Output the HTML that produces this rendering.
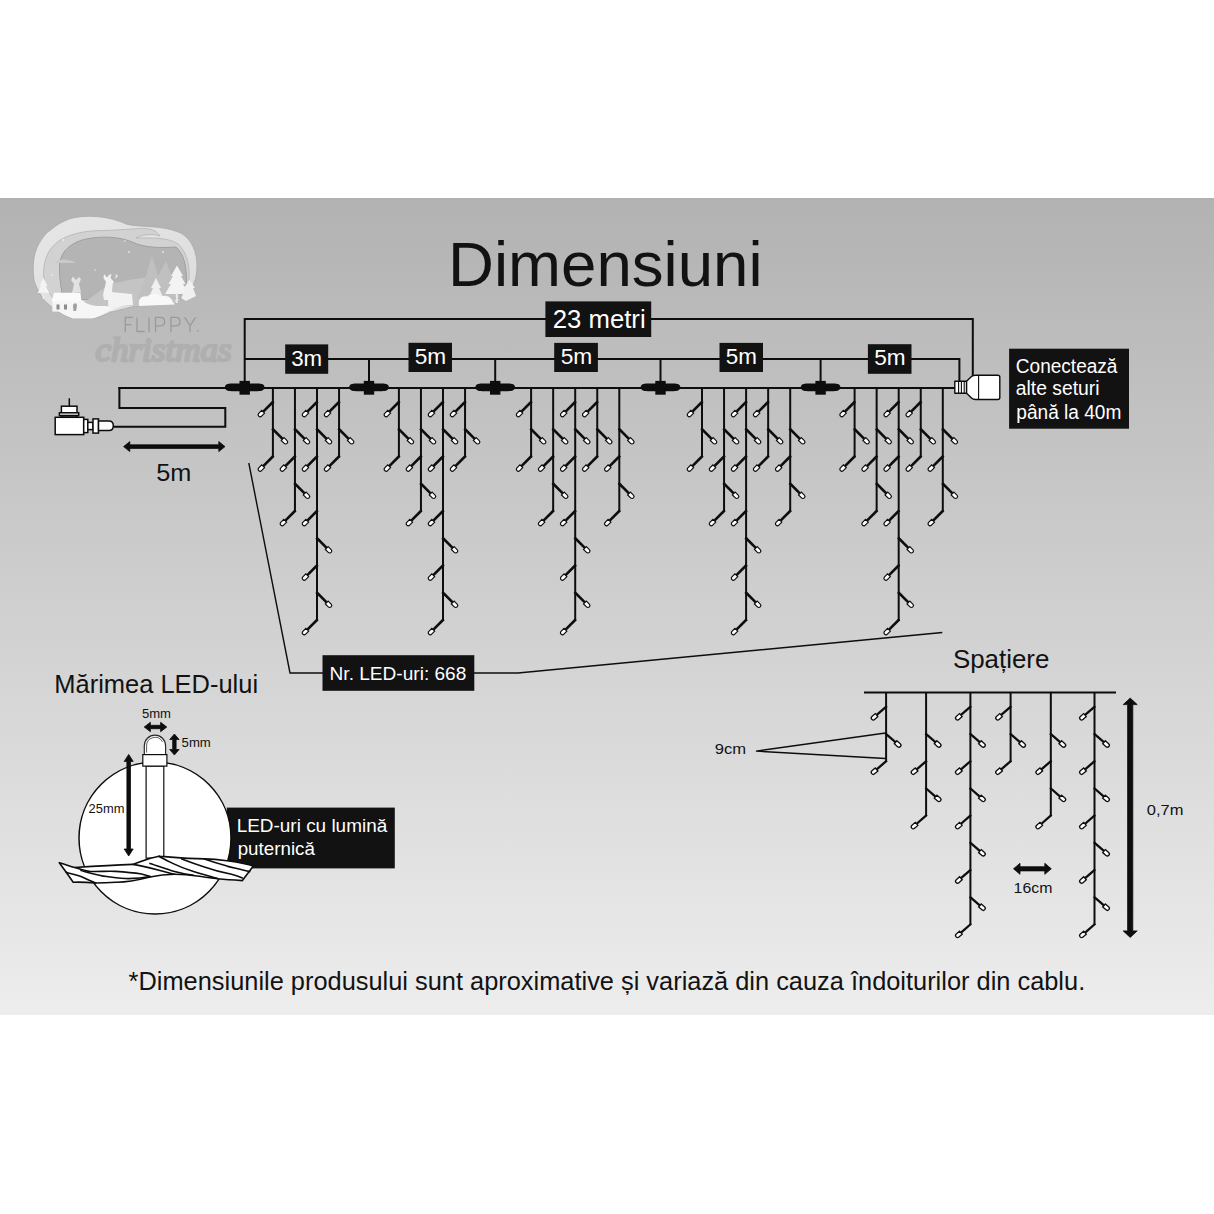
<!DOCTYPE html>
<html><head><meta charset="utf-8"><style>
html,body{margin:0;padding:0;background:#fff;width:1214px;height:1214px;overflow:hidden}
#bg{position:absolute;left:0;top:198px;width:1214px;height:817px;background:linear-gradient(#b2b2b2,#ededed)}
svg{position:absolute;left:0;top:0}
text{font-family:"Liberation Sans",sans-serif;}
</style></head><body>
<div id="bg"></div>
<svg width="1214" height="1214" viewBox="0 0 1214 1214">
<defs>
<linearGradient id="lg1" x1="0" y1="0" x2="1" y2="1"><stop offset="0" stop-color="#e6e6e6"/><stop offset="1" stop-color="#dcdcdc"/></linearGradient>
<filter id="blur1" x="-10%" y="-10%" width="120%" height="120%"><feGaussianBlur stdDeviation="0.8"/></filter>
</defs>

<g id="logo">
<path d="M69,219 C85,214 110,216 126,224 C140,228 160,224 181,233 C192,240 197,252 197,266 C197,280 192,290 186,296 L175,303 C160,306 145,305 137,306 C125,308 118,311 111,312 C102,316 97,318 92,318.5 L73,318.5 C66,316 62,314 58,311.8 C50,306 46,302 42.7,298.5 C38,290 35,285 34,279.6 C33,273 33,268 33.3,264 C34,255 36,249 39,243.6 C43,237 46,233 50.3,230.3 C56,225 62,222 69,219 Z" fill="url(#lg1)" stroke="#acacac" stroke-width="0.9"/>
<path d="M43.6,275 C43,258 50,246 62,239 C75,232 90,230.5 105,230.5 C120,230 130,229 140,228.5 C150,228 156,230 160,236 C150,233 142,235 136,238 C150,238 168,237 178,244 C187,252 190,266 189,280 C188,292 182,298 172,302 L60,306 C50,296 44,286 43.6,275 Z" fill="#d2d2d2" stroke="#b4b4b4" stroke-width="0.8"/>
<path d="M59.5,268 C59,254 68,244 84,239.5 C100,236 118,236 132,242 C145,248 160,248 176,247 C184,254 186.5,266 186.5,280 L186,298 L64,300 C61,290 59.5,280 59.5,268 Z" fill="#b4b4b4" stroke="#9f9f9f" stroke-width="1"/>
<path d="M54,263 C60,258 70,259 76,263 Z" fill="#c9c9c9"/>
<path d="M82,250 A3.5,3.5 0 1 0 86,256 A2.8,2.8 0 1 1 82,250 Z" fill="#dcdcdc"/>
<path d="M80,306 C90,298 100,290 110,285 C120,281 135,279 150,277 L170,280 L175,304 L80,308 Z" fill="#c4c4c4"/>
<path d="M137,298 L146,276 L151.8,255.6 L158,276 L166,261 L174,282 L180,298 Z" fill="#c0c0c0"/>
<path d="M103,295 L106,282 L103.5,278 L104,274 L107,277.5 L109,275 L111.5,274 L110.5,278 L114,282 L112.6,284 L112,292 C116,293 125,293 132,294 L133,305 L122,306 L114,309 L112,311 L108.5,311 L108,300 L104,300 Z" fill="#f2f2f2"/>
<path d="M116,274 L118,276 L115,279 Z" fill="#e8e8e8"/>
<path d="M72,293 L74,284 L71,280 L73,276.5 L76,280 L79,277 L81,279 L79,284 L81,292 Z" fill="#e2e2e2"/>
<path d="M37.7,293 L41,286 L39.5,286 L43.5,278 L47.5,286 L46,286 L49.5,293 Z" fill="#f4f4f4"/>
<rect x="42.6" y="292" width="1.6" height="7" fill="#e8e8e8"/>
<path d="M149,297 L153,288 L151,288 L156,278 L161,288 L159,288 L163,297 Z" fill="#f0f0f0"/>
<path d="M165,294 L171,284 L168.5,284 L173,276 L171,276 L177,265.4 L183,276 L181,276 L185.5,284 L183,284 L189,294 Z" fill="#f3f3f3"/>
<rect x="175.8" y="293" width="2" height="10" fill="#eaeaea"/>
<path d="M181,298 L186,288 L184,288 L189.6,279.4 L195,288 L193,288 L196,296 L186,301 Z" fill="#f0f0f0"/>
<path d="M139,305 C138,299 142,295.5 147,296.5 C150,293 158,293 161,296.5 C165,294.5 171,296 172.8,302 L175,304.6 L139,306 Z" fill="#f8f8f8"/>
<path d="M52,302 L82,300 C88,306 96,306 104,306 C110,306 112,308 109,311 C102,315 97,317.5 92,318.5 L73,318.5 C66,316 60,313 55,308 Z" fill="#f6f6f6"/>
<rect x="52.4" y="301" width="28" height="10.6" fill="#f5f5f5"/>
<path d="M51.5,301.5 L54,292.7 L80.4,292.7 L81.5,301.5 Z" fill="#fafafa"/>
<rect x="56.5" y="304.5" width="3" height="5" fill="#8c8c8c"/><rect x="64" y="304.5" width="3" height="5" fill="#8c8c8c"/>
<path d="M73,306 C73,303 77,302 77,306 L76,311 L73.5,311 Z" fill="#a0a0a0"/>
<circle cx="129" cy="252" r="0.9" fill="#e6e6e6"/><circle cx="163" cy="252" r="0.9" fill="#e6e6e6"/><circle cx="52" cy="275" r="1" fill="#e6e6e6"/><circle cx="95" cy="270" r="0.8" fill="#e6e6e6"/><circle cx="125" cy="241" r="0.8" fill="#e6e6e6"/><circle cx="63" cy="240" r="1" fill="#efefef"/>
</g>
<g stroke="#9a9a9a" stroke-width="1.3" fill="none" stroke-linejoin="miter">
<path d="M125.3,332.2 V317.4 H132.8 M125.3,324.6 H131.5"/>
<path d="M137,317.4 V331.5 H144.6"/>
<path d="M149,317.4 V332.2"/>
<path d="M155.5,332.2 V317.4 H160.5 C163.8,317.4 164.6,319.6 164.6,321.6 C164.6,323.6 163.8,325.8 160.5,325.8 H155.5"/>
<path d="M170.9,332.2 V317.4 H175.9 C179.2,317.4 180,319.6 180,321.6 C180,323.6 179.2,325.8 175.9,325.8 H170.9"/>
<path d="M184.6,317.4 L190.1,325.5 L195.6,317.4 M190.1,325.5 V332.2"/>
</g>
<circle cx="197.8" cy="331" r="0.9" fill="#a0a0a0"/>

<text x="95.5" y="360.5" font-size="34" fill="#afafaf" stroke="#afafaf" stroke-width="2.4" stroke-linejoin="round" style="font-family:'Liberation Serif',serif;font-style:italic;font-weight:normal" textLength="136" lengthAdjust="spacingAndGlyphs">christmas</text>
<text x="448.0" y="285.7" font-size="63.4" textLength="314.59" lengthAdjust="spacingAndGlyphs" fill="#121212">Dimensiuni</text>
<g stroke="#0d0d0d" stroke-width="2" fill="none">
<polyline points="244.7,388 244.7,319 972.8,319 972.8,376"/>
<polyline points="244.7,359.1 959.4,359.1 959.4,382"/>
<line x1="369" y1="359.1" x2="369" y2="384"/>
<line x1="495.2" y1="359.1" x2="495.2" y2="384"/>
<line x1="660.5" y1="359.1" x2="660.5" y2="384"/>
<line x1="820.6" y1="359.1" x2="820.6" y2="384"/>
</g>
<line x1="118.4" y1="387.9" x2="955" y2="387.9" stroke="#0d0d0d" stroke-width="2"/>
<polyline points="224,387.9 119.4,387.9 119.4,407.9 225.3,407.9 225.3,426.8 112,426.8" stroke="#0d0d0d" stroke-width="2" fill="none"/>
<path d="M224.89999999999998,387.3 C224.89999999999998,384.6 227.7,383.6 231.7,383.6 H257.7 C261.7,383.6 264.5,384.6 264.5,387.3 C264.5,390 261.7,391.2 257.7,391.2 H231.7 C227.7,391.2 224.89999999999998,390 224.89999999999998,387.3 Z" fill="#0d0d0d"/>
<rect x="239.5" y="380.9" width="10.4" height="13.8" fill="#0d0d0d"/>
<path d="M349.2,387.3 C349.2,384.6 352,383.6 356,383.6 H382 C386,383.6 388.8,384.6 388.8,387.3 C388.8,390 386,391.2 382,391.2 H356 C352,391.2 349.2,390 349.2,387.3 Z" fill="#0d0d0d"/>
<rect x="363.8" y="380.9" width="10.4" height="13.8" fill="#0d0d0d"/>
<path d="M475.4,387.3 C475.4,384.6 478.2,383.6 482.2,383.6 H508.2 C512.2,383.6 515.0,384.6 515.0,387.3 C515.0,390 512.2,391.2 508.2,391.2 H482.2 C478.2,391.2 475.4,390 475.4,387.3 Z" fill="#0d0d0d"/>
<rect x="490.0" y="380.9" width="10.4" height="13.8" fill="#0d0d0d"/>
<path d="M640.7,387.3 C640.7,384.6 643.5,383.6 647.5,383.6 H673.5 C677.5,383.6 680.3,384.6 680.3,387.3 C680.3,390 677.5,391.2 673.5,391.2 H647.5 C643.5,391.2 640.7,390 640.7,387.3 Z" fill="#0d0d0d"/>
<rect x="655.3" y="380.9" width="10.4" height="13.8" fill="#0d0d0d"/>
<path d="M800.8000000000001,387.3 C800.8000000000001,384.6 803.6,383.6 807.6,383.6 H833.6 C837.6,383.6 840.4,384.6 840.4,387.3 C840.4,390 837.6,391.2 833.6,391.2 H807.6 C803.6,391.2 800.8000000000001,390 800.8000000000001,387.3 Z" fill="#0d0d0d"/>
<rect x="815.4" y="380.9" width="10.4" height="13.8" fill="#0d0d0d"/>
<rect x="545.4" y="301.4" width="105.8" height="35.6" fill="#121212"/>
<text x="552.8" y="328.1" font-size="24.9" textLength="92.82" lengthAdjust="spacingAndGlyphs" fill="#fff">23 metri</text>
<rect x="285.2" y="344.4" width="43.0" height="29.4" fill="#121212"/>
<text x="291.2" y="366.0" font-size="21.4" textLength="30.93" lengthAdjust="spacingAndGlyphs" fill="#fff">3m</text>
<rect x="408.5" y="342.8" width="43.5" height="29.2" fill="#121212"/>
<text x="414.7" y="364.0" font-size="21.4" textLength="31.48" lengthAdjust="spacingAndGlyphs" fill="#fff">5m</text>
<rect x="554.2" y="342.9" width="43.7" height="29.1" fill="#121212"/>
<text x="560.7" y="363.7" font-size="21.4" textLength="31.59" lengthAdjust="spacingAndGlyphs" fill="#fff">5m</text>
<rect x="719.5" y="342.9" width="43.5" height="29.1" fill="#121212"/>
<text x="725.8" y="363.7" font-size="21.4" textLength="31.15" lengthAdjust="spacingAndGlyphs" fill="#fff">5m</text>
<rect x="867.9" y="344.2" width="43.6" height="29.6" fill="#121212"/>
<text x="874.3" y="365.4" font-size="21.4" textLength="31.37" lengthAdjust="spacingAndGlyphs" fill="#fff">5m</text>
<g stroke="#0d0d0d" stroke-width="1.4" fill="#fff" stroke-linejoin="round">
<rect x="954.8" y="381.2" width="11.8" height="12"/>
<path d="M966.6,381.2 L971.5,376.6 Q973,375.2 975.5,375.2 H997.8 Q999.8,375.2 999.8,377.2 V397.5 Q999.8,399.5 997.8,399.5 H975.5 Q973,399.5 971.5,398 L966.6,393.2 Z"/>
</g>
<line x1="978.6" y1="375.5" x2="978.6" y2="399.2" stroke="#0d0d0d" stroke-width="1.1"/>
<g stroke="#0d0d0d" stroke-width="1.1"><line x1="958.6" y1="381.5" x2="958.6" y2="393"/><line x1="961.4" y1="381.5" x2="961.4" y2="393"/><line x1="964.2" y1="381.5" x2="964.2" y2="393"/></g>

<rect x="1009.1" y="348.7" width="119.9" height="80.0" fill="#121212"/>
<text x="1015.8" y="372.6" font-size="19.5" textLength="101.65" lengthAdjust="spacingAndGlyphs" fill="#fff">Conectează</text>
<text x="1015.8" y="395.3" font-size="19.5" textLength="83.72" lengthAdjust="spacingAndGlyphs" fill="#fff">alte seturi</text>
<text x="1016.3" y="418.5" font-size="19.5" textLength="105.08" lengthAdjust="spacingAndGlyphs" fill="#fff">până la 40m</text>
<g stroke="#0d0d0d" stroke-width="1.5" fill="#fff">
<line x1="69.3" y1="398.3" x2="69.3" y2="406.2"/>
<rect x="61.4" y="406.2" width="15.6" height="6.6"/>
<rect x="59.4" y="412.8" width="19.3" height="2.8"/>
<rect x="61.4" y="415.6" width="15.6" height="1.7"/>
<rect x="55.2" y="417.3" width="28.5" height="17.3"/>
<rect x="83.7" y="419.4" width="4.1" height="13.2"/>
<rect x="87.8" y="422.4" width="5.2" height="7.2"/>
<rect x="93" y="418.9" width="5.5" height="14.2"/>
<path d="M98.5,421 H109 Q113.3,421 113.3,425.8 Q113.3,430.6 109,430.6 H98.5 Z"/>
</g>
<path d="M123.6,446.6 L129.79999999999998,441.6 V444.8 H218.8 V441.6 L225,446.6 L218.8,451.6 V448.40000000000003 H129.79999999999998 V451.6 Z" fill="#0d0d0d" stroke="#0d0d0d" stroke-width="0.8" stroke-linejoin="round"/>
<text x="156.3" y="481.4" font-size="24.6" textLength="35.13" lengthAdjust="spacingAndGlyphs" fill="#121212">5m</text>
<line x1="272.90" y1="387.9" x2="272.90" y2="457.10" stroke="#0d0d0d" stroke-width="2.0"/><g transform="translate(272.90,402.00) rotate(135)"><line x1="-1" y1="0" x2="14.0" y2="0" stroke="#0d0d0d" stroke-width="2.6"/><path d="M13.8,-2.0 H18.0 A2.0,2.0 0 0 1 18.0,2.0 H13.8 Z" fill="#fff" stroke="#0d0d0d" stroke-width="1.2"/></g><g transform="translate(272.90,429.25) rotate(45)"><line x1="-1" y1="0" x2="14.0" y2="0" stroke="#0d0d0d" stroke-width="2.6"/><path d="M13.8,-2.0 H18.0 A2.0,2.0 0 0 1 18.0,2.0 H13.8 Z" fill="#fff" stroke="#0d0d0d" stroke-width="1.2"/></g><g transform="translate(272.90,456.50) rotate(135)"><line x1="-1" y1="0" x2="14.0" y2="0" stroke="#0d0d0d" stroke-width="2.6"/><path d="M13.8,-2.0 H18.0 A2.0,2.0 0 0 1 18.0,2.0 H13.8 Z" fill="#fff" stroke="#0d0d0d" stroke-width="1.2"/></g>
<line x1="294.95" y1="387.9" x2="294.95" y2="511.60" stroke="#0d0d0d" stroke-width="2.0"/><g transform="translate(294.95,429.25) rotate(45)"><line x1="-1" y1="0" x2="14.0" y2="0" stroke="#0d0d0d" stroke-width="2.6"/><path d="M13.8,-2.0 H18.0 A2.0,2.0 0 0 1 18.0,2.0 H13.8 Z" fill="#fff" stroke="#0d0d0d" stroke-width="1.2"/></g><g transform="translate(294.95,456.50) rotate(135)"><line x1="-1" y1="0" x2="14.0" y2="0" stroke="#0d0d0d" stroke-width="2.6"/><path d="M13.8,-2.0 H18.0 A2.0,2.0 0 0 1 18.0,2.0 H13.8 Z" fill="#fff" stroke="#0d0d0d" stroke-width="1.2"/></g><g transform="translate(294.95,483.75) rotate(45)"><line x1="-1" y1="0" x2="14.0" y2="0" stroke="#0d0d0d" stroke-width="2.6"/><path d="M13.8,-2.0 H18.0 A2.0,2.0 0 0 1 18.0,2.0 H13.8 Z" fill="#fff" stroke="#0d0d0d" stroke-width="1.2"/></g><g transform="translate(294.95,511.00) rotate(135)"><line x1="-1" y1="0" x2="14.0" y2="0" stroke="#0d0d0d" stroke-width="2.6"/><path d="M13.8,-2.0 H18.0 A2.0,2.0 0 0 1 18.0,2.0 H13.8 Z" fill="#fff" stroke="#0d0d0d" stroke-width="1.2"/></g>
<line x1="317.00" y1="387.9" x2="317.00" y2="620.60" stroke="#0d0d0d" stroke-width="2.0"/><g transform="translate(317.00,402.00) rotate(135)"><line x1="-1" y1="0" x2="14.0" y2="0" stroke="#0d0d0d" stroke-width="2.6"/><path d="M13.8,-2.0 H18.0 A2.0,2.0 0 0 1 18.0,2.0 H13.8 Z" fill="#fff" stroke="#0d0d0d" stroke-width="1.2"/></g><g transform="translate(317.00,429.25) rotate(45)"><line x1="-1" y1="0" x2="14.0" y2="0" stroke="#0d0d0d" stroke-width="2.6"/><path d="M13.8,-2.0 H18.0 A2.0,2.0 0 0 1 18.0,2.0 H13.8 Z" fill="#fff" stroke="#0d0d0d" stroke-width="1.2"/></g><g transform="translate(317.00,456.50) rotate(135)"><line x1="-1" y1="0" x2="14.0" y2="0" stroke="#0d0d0d" stroke-width="2.6"/><path d="M13.8,-2.0 H18.0 A2.0,2.0 0 0 1 18.0,2.0 H13.8 Z" fill="#fff" stroke="#0d0d0d" stroke-width="1.2"/></g><g transform="translate(317.00,511.00) rotate(135)"><line x1="-1" y1="0" x2="14.0" y2="0" stroke="#0d0d0d" stroke-width="2.6"/><path d="M13.8,-2.0 H18.0 A2.0,2.0 0 0 1 18.0,2.0 H13.8 Z" fill="#fff" stroke="#0d0d0d" stroke-width="1.2"/></g><g transform="translate(317.00,538.25) rotate(45)"><line x1="-1" y1="0" x2="14.0" y2="0" stroke="#0d0d0d" stroke-width="2.6"/><path d="M13.8,-2.0 H18.0 A2.0,2.0 0 0 1 18.0,2.0 H13.8 Z" fill="#fff" stroke="#0d0d0d" stroke-width="1.2"/></g><g transform="translate(317.00,565.50) rotate(135)"><line x1="-1" y1="0" x2="14.0" y2="0" stroke="#0d0d0d" stroke-width="2.6"/><path d="M13.8,-2.0 H18.0 A2.0,2.0 0 0 1 18.0,2.0 H13.8 Z" fill="#fff" stroke="#0d0d0d" stroke-width="1.2"/></g><g transform="translate(317.00,592.75) rotate(45)"><line x1="-1" y1="0" x2="14.0" y2="0" stroke="#0d0d0d" stroke-width="2.6"/><path d="M13.8,-2.0 H18.0 A2.0,2.0 0 0 1 18.0,2.0 H13.8 Z" fill="#fff" stroke="#0d0d0d" stroke-width="1.2"/></g><g transform="translate(317.00,620.00) rotate(135)"><line x1="-1" y1="0" x2="14.0" y2="0" stroke="#0d0d0d" stroke-width="2.6"/><path d="M13.8,-2.0 H18.0 A2.0,2.0 0 0 1 18.0,2.0 H13.8 Z" fill="#fff" stroke="#0d0d0d" stroke-width="1.2"/></g>
<line x1="339.05" y1="387.9" x2="339.05" y2="457.10" stroke="#0d0d0d" stroke-width="2.0"/><g transform="translate(339.05,402.00) rotate(135)"><line x1="-1" y1="0" x2="14.0" y2="0" stroke="#0d0d0d" stroke-width="2.6"/><path d="M13.8,-2.0 H18.0 A2.0,2.0 0 0 1 18.0,2.0 H13.8 Z" fill="#fff" stroke="#0d0d0d" stroke-width="1.2"/></g><g transform="translate(339.05,429.25) rotate(45)"><line x1="-1" y1="0" x2="14.0" y2="0" stroke="#0d0d0d" stroke-width="2.6"/><path d="M13.8,-2.0 H18.0 A2.0,2.0 0 0 1 18.0,2.0 H13.8 Z" fill="#fff" stroke="#0d0d0d" stroke-width="1.2"/></g><g transform="translate(339.05,456.50) rotate(135)"><line x1="-1" y1="0" x2="14.0" y2="0" stroke="#0d0d0d" stroke-width="2.6"/><path d="M13.8,-2.0 H18.0 A2.0,2.0 0 0 1 18.0,2.0 H13.8 Z" fill="#fff" stroke="#0d0d0d" stroke-width="1.2"/></g>
<line x1="398.90" y1="387.9" x2="398.90" y2="457.10" stroke="#0d0d0d" stroke-width="2.0"/><g transform="translate(398.90,402.00) rotate(135)"><line x1="-1" y1="0" x2="14.0" y2="0" stroke="#0d0d0d" stroke-width="2.6"/><path d="M13.8,-2.0 H18.0 A2.0,2.0 0 0 1 18.0,2.0 H13.8 Z" fill="#fff" stroke="#0d0d0d" stroke-width="1.2"/></g><g transform="translate(398.90,429.25) rotate(45)"><line x1="-1" y1="0" x2="14.0" y2="0" stroke="#0d0d0d" stroke-width="2.6"/><path d="M13.8,-2.0 H18.0 A2.0,2.0 0 0 1 18.0,2.0 H13.8 Z" fill="#fff" stroke="#0d0d0d" stroke-width="1.2"/></g><g transform="translate(398.90,456.50) rotate(135)"><line x1="-1" y1="0" x2="14.0" y2="0" stroke="#0d0d0d" stroke-width="2.6"/><path d="M13.8,-2.0 H18.0 A2.0,2.0 0 0 1 18.0,2.0 H13.8 Z" fill="#fff" stroke="#0d0d0d" stroke-width="1.2"/></g>
<line x1="420.95" y1="387.9" x2="420.95" y2="511.60" stroke="#0d0d0d" stroke-width="2.0"/><g transform="translate(420.95,429.25) rotate(45)"><line x1="-1" y1="0" x2="14.0" y2="0" stroke="#0d0d0d" stroke-width="2.6"/><path d="M13.8,-2.0 H18.0 A2.0,2.0 0 0 1 18.0,2.0 H13.8 Z" fill="#fff" stroke="#0d0d0d" stroke-width="1.2"/></g><g transform="translate(420.95,456.50) rotate(135)"><line x1="-1" y1="0" x2="14.0" y2="0" stroke="#0d0d0d" stroke-width="2.6"/><path d="M13.8,-2.0 H18.0 A2.0,2.0 0 0 1 18.0,2.0 H13.8 Z" fill="#fff" stroke="#0d0d0d" stroke-width="1.2"/></g><g transform="translate(420.95,483.75) rotate(45)"><line x1="-1" y1="0" x2="14.0" y2="0" stroke="#0d0d0d" stroke-width="2.6"/><path d="M13.8,-2.0 H18.0 A2.0,2.0 0 0 1 18.0,2.0 H13.8 Z" fill="#fff" stroke="#0d0d0d" stroke-width="1.2"/></g><g transform="translate(420.95,511.00) rotate(135)"><line x1="-1" y1="0" x2="14.0" y2="0" stroke="#0d0d0d" stroke-width="2.6"/><path d="M13.8,-2.0 H18.0 A2.0,2.0 0 0 1 18.0,2.0 H13.8 Z" fill="#fff" stroke="#0d0d0d" stroke-width="1.2"/></g>
<line x1="443.00" y1="387.9" x2="443.00" y2="620.60" stroke="#0d0d0d" stroke-width="2.0"/><g transform="translate(443.00,402.00) rotate(135)"><line x1="-1" y1="0" x2="14.0" y2="0" stroke="#0d0d0d" stroke-width="2.6"/><path d="M13.8,-2.0 H18.0 A2.0,2.0 0 0 1 18.0,2.0 H13.8 Z" fill="#fff" stroke="#0d0d0d" stroke-width="1.2"/></g><g transform="translate(443.00,429.25) rotate(45)"><line x1="-1" y1="0" x2="14.0" y2="0" stroke="#0d0d0d" stroke-width="2.6"/><path d="M13.8,-2.0 H18.0 A2.0,2.0 0 0 1 18.0,2.0 H13.8 Z" fill="#fff" stroke="#0d0d0d" stroke-width="1.2"/></g><g transform="translate(443.00,456.50) rotate(135)"><line x1="-1" y1="0" x2="14.0" y2="0" stroke="#0d0d0d" stroke-width="2.6"/><path d="M13.8,-2.0 H18.0 A2.0,2.0 0 0 1 18.0,2.0 H13.8 Z" fill="#fff" stroke="#0d0d0d" stroke-width="1.2"/></g><g transform="translate(443.00,511.00) rotate(135)"><line x1="-1" y1="0" x2="14.0" y2="0" stroke="#0d0d0d" stroke-width="2.6"/><path d="M13.8,-2.0 H18.0 A2.0,2.0 0 0 1 18.0,2.0 H13.8 Z" fill="#fff" stroke="#0d0d0d" stroke-width="1.2"/></g><g transform="translate(443.00,538.25) rotate(45)"><line x1="-1" y1="0" x2="14.0" y2="0" stroke="#0d0d0d" stroke-width="2.6"/><path d="M13.8,-2.0 H18.0 A2.0,2.0 0 0 1 18.0,2.0 H13.8 Z" fill="#fff" stroke="#0d0d0d" stroke-width="1.2"/></g><g transform="translate(443.00,565.50) rotate(135)"><line x1="-1" y1="0" x2="14.0" y2="0" stroke="#0d0d0d" stroke-width="2.6"/><path d="M13.8,-2.0 H18.0 A2.0,2.0 0 0 1 18.0,2.0 H13.8 Z" fill="#fff" stroke="#0d0d0d" stroke-width="1.2"/></g><g transform="translate(443.00,592.75) rotate(45)"><line x1="-1" y1="0" x2="14.0" y2="0" stroke="#0d0d0d" stroke-width="2.6"/><path d="M13.8,-2.0 H18.0 A2.0,2.0 0 0 1 18.0,2.0 H13.8 Z" fill="#fff" stroke="#0d0d0d" stroke-width="1.2"/></g><g transform="translate(443.00,620.00) rotate(135)"><line x1="-1" y1="0" x2="14.0" y2="0" stroke="#0d0d0d" stroke-width="2.6"/><path d="M13.8,-2.0 H18.0 A2.0,2.0 0 0 1 18.0,2.0 H13.8 Z" fill="#fff" stroke="#0d0d0d" stroke-width="1.2"/></g>
<line x1="465.05" y1="387.9" x2="465.05" y2="457.10" stroke="#0d0d0d" stroke-width="2.0"/><g transform="translate(465.05,402.00) rotate(135)"><line x1="-1" y1="0" x2="14.0" y2="0" stroke="#0d0d0d" stroke-width="2.6"/><path d="M13.8,-2.0 H18.0 A2.0,2.0 0 0 1 18.0,2.0 H13.8 Z" fill="#fff" stroke="#0d0d0d" stroke-width="1.2"/></g><g transform="translate(465.05,429.25) rotate(45)"><line x1="-1" y1="0" x2="14.0" y2="0" stroke="#0d0d0d" stroke-width="2.6"/><path d="M13.8,-2.0 H18.0 A2.0,2.0 0 0 1 18.0,2.0 H13.8 Z" fill="#fff" stroke="#0d0d0d" stroke-width="1.2"/></g><g transform="translate(465.05,456.50) rotate(135)"><line x1="-1" y1="0" x2="14.0" y2="0" stroke="#0d0d0d" stroke-width="2.6"/><path d="M13.8,-2.0 H18.0 A2.0,2.0 0 0 1 18.0,2.0 H13.8 Z" fill="#fff" stroke="#0d0d0d" stroke-width="1.2"/></g>
<line x1="531.10" y1="387.9" x2="531.10" y2="457.10" stroke="#0d0d0d" stroke-width="2.0"/><g transform="translate(531.10,402.00) rotate(135)"><line x1="-1" y1="0" x2="14.0" y2="0" stroke="#0d0d0d" stroke-width="2.6"/><path d="M13.8,-2.0 H18.0 A2.0,2.0 0 0 1 18.0,2.0 H13.8 Z" fill="#fff" stroke="#0d0d0d" stroke-width="1.2"/></g><g transform="translate(531.10,429.25) rotate(45)"><line x1="-1" y1="0" x2="14.0" y2="0" stroke="#0d0d0d" stroke-width="2.6"/><path d="M13.8,-2.0 H18.0 A2.0,2.0 0 0 1 18.0,2.0 H13.8 Z" fill="#fff" stroke="#0d0d0d" stroke-width="1.2"/></g><g transform="translate(531.10,456.50) rotate(135)"><line x1="-1" y1="0" x2="14.0" y2="0" stroke="#0d0d0d" stroke-width="2.6"/><path d="M13.8,-2.0 H18.0 A2.0,2.0 0 0 1 18.0,2.0 H13.8 Z" fill="#fff" stroke="#0d0d0d" stroke-width="1.2"/></g>
<line x1="553.15" y1="387.9" x2="553.15" y2="511.60" stroke="#0d0d0d" stroke-width="2.0"/><g transform="translate(553.15,429.25) rotate(45)"><line x1="-1" y1="0" x2="14.0" y2="0" stroke="#0d0d0d" stroke-width="2.6"/><path d="M13.8,-2.0 H18.0 A2.0,2.0 0 0 1 18.0,2.0 H13.8 Z" fill="#fff" stroke="#0d0d0d" stroke-width="1.2"/></g><g transform="translate(553.15,456.50) rotate(135)"><line x1="-1" y1="0" x2="14.0" y2="0" stroke="#0d0d0d" stroke-width="2.6"/><path d="M13.8,-2.0 H18.0 A2.0,2.0 0 0 1 18.0,2.0 H13.8 Z" fill="#fff" stroke="#0d0d0d" stroke-width="1.2"/></g><g transform="translate(553.15,483.75) rotate(45)"><line x1="-1" y1="0" x2="14.0" y2="0" stroke="#0d0d0d" stroke-width="2.6"/><path d="M13.8,-2.0 H18.0 A2.0,2.0 0 0 1 18.0,2.0 H13.8 Z" fill="#fff" stroke="#0d0d0d" stroke-width="1.2"/></g><g transform="translate(553.15,511.00) rotate(135)"><line x1="-1" y1="0" x2="14.0" y2="0" stroke="#0d0d0d" stroke-width="2.6"/><path d="M13.8,-2.0 H18.0 A2.0,2.0 0 0 1 18.0,2.0 H13.8 Z" fill="#fff" stroke="#0d0d0d" stroke-width="1.2"/></g>
<line x1="575.20" y1="387.9" x2="575.20" y2="620.60" stroke="#0d0d0d" stroke-width="2.0"/><g transform="translate(575.20,402.00) rotate(135)"><line x1="-1" y1="0" x2="14.0" y2="0" stroke="#0d0d0d" stroke-width="2.6"/><path d="M13.8,-2.0 H18.0 A2.0,2.0 0 0 1 18.0,2.0 H13.8 Z" fill="#fff" stroke="#0d0d0d" stroke-width="1.2"/></g><g transform="translate(575.20,429.25) rotate(45)"><line x1="-1" y1="0" x2="14.0" y2="0" stroke="#0d0d0d" stroke-width="2.6"/><path d="M13.8,-2.0 H18.0 A2.0,2.0 0 0 1 18.0,2.0 H13.8 Z" fill="#fff" stroke="#0d0d0d" stroke-width="1.2"/></g><g transform="translate(575.20,456.50) rotate(135)"><line x1="-1" y1="0" x2="14.0" y2="0" stroke="#0d0d0d" stroke-width="2.6"/><path d="M13.8,-2.0 H18.0 A2.0,2.0 0 0 1 18.0,2.0 H13.8 Z" fill="#fff" stroke="#0d0d0d" stroke-width="1.2"/></g><g transform="translate(575.20,511.00) rotate(135)"><line x1="-1" y1="0" x2="14.0" y2="0" stroke="#0d0d0d" stroke-width="2.6"/><path d="M13.8,-2.0 H18.0 A2.0,2.0 0 0 1 18.0,2.0 H13.8 Z" fill="#fff" stroke="#0d0d0d" stroke-width="1.2"/></g><g transform="translate(575.20,538.25) rotate(45)"><line x1="-1" y1="0" x2="14.0" y2="0" stroke="#0d0d0d" stroke-width="2.6"/><path d="M13.8,-2.0 H18.0 A2.0,2.0 0 0 1 18.0,2.0 H13.8 Z" fill="#fff" stroke="#0d0d0d" stroke-width="1.2"/></g><g transform="translate(575.20,565.50) rotate(135)"><line x1="-1" y1="0" x2="14.0" y2="0" stroke="#0d0d0d" stroke-width="2.6"/><path d="M13.8,-2.0 H18.0 A2.0,2.0 0 0 1 18.0,2.0 H13.8 Z" fill="#fff" stroke="#0d0d0d" stroke-width="1.2"/></g><g transform="translate(575.20,592.75) rotate(45)"><line x1="-1" y1="0" x2="14.0" y2="0" stroke="#0d0d0d" stroke-width="2.6"/><path d="M13.8,-2.0 H18.0 A2.0,2.0 0 0 1 18.0,2.0 H13.8 Z" fill="#fff" stroke="#0d0d0d" stroke-width="1.2"/></g><g transform="translate(575.20,620.00) rotate(135)"><line x1="-1" y1="0" x2="14.0" y2="0" stroke="#0d0d0d" stroke-width="2.6"/><path d="M13.8,-2.0 H18.0 A2.0,2.0 0 0 1 18.0,2.0 H13.8 Z" fill="#fff" stroke="#0d0d0d" stroke-width="1.2"/></g>
<line x1="597.25" y1="387.9" x2="597.25" y2="457.10" stroke="#0d0d0d" stroke-width="2.0"/><g transform="translate(597.25,402.00) rotate(135)"><line x1="-1" y1="0" x2="14.0" y2="0" stroke="#0d0d0d" stroke-width="2.6"/><path d="M13.8,-2.0 H18.0 A2.0,2.0 0 0 1 18.0,2.0 H13.8 Z" fill="#fff" stroke="#0d0d0d" stroke-width="1.2"/></g><g transform="translate(597.25,429.25) rotate(45)"><line x1="-1" y1="0" x2="14.0" y2="0" stroke="#0d0d0d" stroke-width="2.6"/><path d="M13.8,-2.0 H18.0 A2.0,2.0 0 0 1 18.0,2.0 H13.8 Z" fill="#fff" stroke="#0d0d0d" stroke-width="1.2"/></g><g transform="translate(597.25,456.50) rotate(135)"><line x1="-1" y1="0" x2="14.0" y2="0" stroke="#0d0d0d" stroke-width="2.6"/><path d="M13.8,-2.0 H18.0 A2.0,2.0 0 0 1 18.0,2.0 H13.8 Z" fill="#fff" stroke="#0d0d0d" stroke-width="1.2"/></g>
<line x1="619.30" y1="387.9" x2="619.30" y2="511.60" stroke="#0d0d0d" stroke-width="2.0"/><g transform="translate(619.30,429.25) rotate(45)"><line x1="-1" y1="0" x2="14.0" y2="0" stroke="#0d0d0d" stroke-width="2.6"/><path d="M13.8,-2.0 H18.0 A2.0,2.0 0 0 1 18.0,2.0 H13.8 Z" fill="#fff" stroke="#0d0d0d" stroke-width="1.2"/></g><g transform="translate(619.30,456.50) rotate(135)"><line x1="-1" y1="0" x2="14.0" y2="0" stroke="#0d0d0d" stroke-width="2.6"/><path d="M13.8,-2.0 H18.0 A2.0,2.0 0 0 1 18.0,2.0 H13.8 Z" fill="#fff" stroke="#0d0d0d" stroke-width="1.2"/></g><g transform="translate(619.30,483.75) rotate(45)"><line x1="-1" y1="0" x2="14.0" y2="0" stroke="#0d0d0d" stroke-width="2.6"/><path d="M13.8,-2.0 H18.0 A2.0,2.0 0 0 1 18.0,2.0 H13.8 Z" fill="#fff" stroke="#0d0d0d" stroke-width="1.2"/></g><g transform="translate(619.30,511.00) rotate(135)"><line x1="-1" y1="0" x2="14.0" y2="0" stroke="#0d0d0d" stroke-width="2.6"/><path d="M13.8,-2.0 H18.0 A2.0,2.0 0 0 1 18.0,2.0 H13.8 Z" fill="#fff" stroke="#0d0d0d" stroke-width="1.2"/></g>
<line x1="702.00" y1="387.9" x2="702.00" y2="457.10" stroke="#0d0d0d" stroke-width="2.0"/><g transform="translate(702.00,402.00) rotate(135)"><line x1="-1" y1="0" x2="14.0" y2="0" stroke="#0d0d0d" stroke-width="2.6"/><path d="M13.8,-2.0 H18.0 A2.0,2.0 0 0 1 18.0,2.0 H13.8 Z" fill="#fff" stroke="#0d0d0d" stroke-width="1.2"/></g><g transform="translate(702.00,429.25) rotate(45)"><line x1="-1" y1="0" x2="14.0" y2="0" stroke="#0d0d0d" stroke-width="2.6"/><path d="M13.8,-2.0 H18.0 A2.0,2.0 0 0 1 18.0,2.0 H13.8 Z" fill="#fff" stroke="#0d0d0d" stroke-width="1.2"/></g><g transform="translate(702.00,456.50) rotate(135)"><line x1="-1" y1="0" x2="14.0" y2="0" stroke="#0d0d0d" stroke-width="2.6"/><path d="M13.8,-2.0 H18.0 A2.0,2.0 0 0 1 18.0,2.0 H13.8 Z" fill="#fff" stroke="#0d0d0d" stroke-width="1.2"/></g>
<line x1="724.05" y1="387.9" x2="724.05" y2="511.60" stroke="#0d0d0d" stroke-width="2.0"/><g transform="translate(724.05,429.25) rotate(45)"><line x1="-1" y1="0" x2="14.0" y2="0" stroke="#0d0d0d" stroke-width="2.6"/><path d="M13.8,-2.0 H18.0 A2.0,2.0 0 0 1 18.0,2.0 H13.8 Z" fill="#fff" stroke="#0d0d0d" stroke-width="1.2"/></g><g transform="translate(724.05,456.50) rotate(135)"><line x1="-1" y1="0" x2="14.0" y2="0" stroke="#0d0d0d" stroke-width="2.6"/><path d="M13.8,-2.0 H18.0 A2.0,2.0 0 0 1 18.0,2.0 H13.8 Z" fill="#fff" stroke="#0d0d0d" stroke-width="1.2"/></g><g transform="translate(724.05,483.75) rotate(45)"><line x1="-1" y1="0" x2="14.0" y2="0" stroke="#0d0d0d" stroke-width="2.6"/><path d="M13.8,-2.0 H18.0 A2.0,2.0 0 0 1 18.0,2.0 H13.8 Z" fill="#fff" stroke="#0d0d0d" stroke-width="1.2"/></g><g transform="translate(724.05,511.00) rotate(135)"><line x1="-1" y1="0" x2="14.0" y2="0" stroke="#0d0d0d" stroke-width="2.6"/><path d="M13.8,-2.0 H18.0 A2.0,2.0 0 0 1 18.0,2.0 H13.8 Z" fill="#fff" stroke="#0d0d0d" stroke-width="1.2"/></g>
<line x1="746.10" y1="387.9" x2="746.10" y2="620.60" stroke="#0d0d0d" stroke-width="2.0"/><g transform="translate(746.10,402.00) rotate(135)"><line x1="-1" y1="0" x2="14.0" y2="0" stroke="#0d0d0d" stroke-width="2.6"/><path d="M13.8,-2.0 H18.0 A2.0,2.0 0 0 1 18.0,2.0 H13.8 Z" fill="#fff" stroke="#0d0d0d" stroke-width="1.2"/></g><g transform="translate(746.10,429.25) rotate(45)"><line x1="-1" y1="0" x2="14.0" y2="0" stroke="#0d0d0d" stroke-width="2.6"/><path d="M13.8,-2.0 H18.0 A2.0,2.0 0 0 1 18.0,2.0 H13.8 Z" fill="#fff" stroke="#0d0d0d" stroke-width="1.2"/></g><g transform="translate(746.10,456.50) rotate(135)"><line x1="-1" y1="0" x2="14.0" y2="0" stroke="#0d0d0d" stroke-width="2.6"/><path d="M13.8,-2.0 H18.0 A2.0,2.0 0 0 1 18.0,2.0 H13.8 Z" fill="#fff" stroke="#0d0d0d" stroke-width="1.2"/></g><g transform="translate(746.10,511.00) rotate(135)"><line x1="-1" y1="0" x2="14.0" y2="0" stroke="#0d0d0d" stroke-width="2.6"/><path d="M13.8,-2.0 H18.0 A2.0,2.0 0 0 1 18.0,2.0 H13.8 Z" fill="#fff" stroke="#0d0d0d" stroke-width="1.2"/></g><g transform="translate(746.10,538.25) rotate(45)"><line x1="-1" y1="0" x2="14.0" y2="0" stroke="#0d0d0d" stroke-width="2.6"/><path d="M13.8,-2.0 H18.0 A2.0,2.0 0 0 1 18.0,2.0 H13.8 Z" fill="#fff" stroke="#0d0d0d" stroke-width="1.2"/></g><g transform="translate(746.10,565.50) rotate(135)"><line x1="-1" y1="0" x2="14.0" y2="0" stroke="#0d0d0d" stroke-width="2.6"/><path d="M13.8,-2.0 H18.0 A2.0,2.0 0 0 1 18.0,2.0 H13.8 Z" fill="#fff" stroke="#0d0d0d" stroke-width="1.2"/></g><g transform="translate(746.10,592.75) rotate(45)"><line x1="-1" y1="0" x2="14.0" y2="0" stroke="#0d0d0d" stroke-width="2.6"/><path d="M13.8,-2.0 H18.0 A2.0,2.0 0 0 1 18.0,2.0 H13.8 Z" fill="#fff" stroke="#0d0d0d" stroke-width="1.2"/></g><g transform="translate(746.10,620.00) rotate(135)"><line x1="-1" y1="0" x2="14.0" y2="0" stroke="#0d0d0d" stroke-width="2.6"/><path d="M13.8,-2.0 H18.0 A2.0,2.0 0 0 1 18.0,2.0 H13.8 Z" fill="#fff" stroke="#0d0d0d" stroke-width="1.2"/></g>
<line x1="768.15" y1="387.9" x2="768.15" y2="457.10" stroke="#0d0d0d" stroke-width="2.0"/><g transform="translate(768.15,402.00) rotate(135)"><line x1="-1" y1="0" x2="14.0" y2="0" stroke="#0d0d0d" stroke-width="2.6"/><path d="M13.8,-2.0 H18.0 A2.0,2.0 0 0 1 18.0,2.0 H13.8 Z" fill="#fff" stroke="#0d0d0d" stroke-width="1.2"/></g><g transform="translate(768.15,429.25) rotate(45)"><line x1="-1" y1="0" x2="14.0" y2="0" stroke="#0d0d0d" stroke-width="2.6"/><path d="M13.8,-2.0 H18.0 A2.0,2.0 0 0 1 18.0,2.0 H13.8 Z" fill="#fff" stroke="#0d0d0d" stroke-width="1.2"/></g><g transform="translate(768.15,456.50) rotate(135)"><line x1="-1" y1="0" x2="14.0" y2="0" stroke="#0d0d0d" stroke-width="2.6"/><path d="M13.8,-2.0 H18.0 A2.0,2.0 0 0 1 18.0,2.0 H13.8 Z" fill="#fff" stroke="#0d0d0d" stroke-width="1.2"/></g>
<line x1="790.20" y1="387.9" x2="790.20" y2="511.60" stroke="#0d0d0d" stroke-width="2.0"/><g transform="translate(790.20,429.25) rotate(45)"><line x1="-1" y1="0" x2="14.0" y2="0" stroke="#0d0d0d" stroke-width="2.6"/><path d="M13.8,-2.0 H18.0 A2.0,2.0 0 0 1 18.0,2.0 H13.8 Z" fill="#fff" stroke="#0d0d0d" stroke-width="1.2"/></g><g transform="translate(790.20,456.50) rotate(135)"><line x1="-1" y1="0" x2="14.0" y2="0" stroke="#0d0d0d" stroke-width="2.6"/><path d="M13.8,-2.0 H18.0 A2.0,2.0 0 0 1 18.0,2.0 H13.8 Z" fill="#fff" stroke="#0d0d0d" stroke-width="1.2"/></g><g transform="translate(790.20,483.75) rotate(45)"><line x1="-1" y1="0" x2="14.0" y2="0" stroke="#0d0d0d" stroke-width="2.6"/><path d="M13.8,-2.0 H18.0 A2.0,2.0 0 0 1 18.0,2.0 H13.8 Z" fill="#fff" stroke="#0d0d0d" stroke-width="1.2"/></g><g transform="translate(790.20,511.00) rotate(135)"><line x1="-1" y1="0" x2="14.0" y2="0" stroke="#0d0d0d" stroke-width="2.6"/><path d="M13.8,-2.0 H18.0 A2.0,2.0 0 0 1 18.0,2.0 H13.8 Z" fill="#fff" stroke="#0d0d0d" stroke-width="1.2"/></g>
<line x1="854.60" y1="387.9" x2="854.60" y2="457.10" stroke="#0d0d0d" stroke-width="2.0"/><g transform="translate(854.60,402.00) rotate(135)"><line x1="-1" y1="0" x2="14.0" y2="0" stroke="#0d0d0d" stroke-width="2.6"/><path d="M13.8,-2.0 H18.0 A2.0,2.0 0 0 1 18.0,2.0 H13.8 Z" fill="#fff" stroke="#0d0d0d" stroke-width="1.2"/></g><g transform="translate(854.60,429.25) rotate(45)"><line x1="-1" y1="0" x2="14.0" y2="0" stroke="#0d0d0d" stroke-width="2.6"/><path d="M13.8,-2.0 H18.0 A2.0,2.0 0 0 1 18.0,2.0 H13.8 Z" fill="#fff" stroke="#0d0d0d" stroke-width="1.2"/></g><g transform="translate(854.60,456.50) rotate(135)"><line x1="-1" y1="0" x2="14.0" y2="0" stroke="#0d0d0d" stroke-width="2.6"/><path d="M13.8,-2.0 H18.0 A2.0,2.0 0 0 1 18.0,2.0 H13.8 Z" fill="#fff" stroke="#0d0d0d" stroke-width="1.2"/></g>
<line x1="876.65" y1="387.9" x2="876.65" y2="511.60" stroke="#0d0d0d" stroke-width="2.0"/><g transform="translate(876.65,429.25) rotate(45)"><line x1="-1" y1="0" x2="14.0" y2="0" stroke="#0d0d0d" stroke-width="2.6"/><path d="M13.8,-2.0 H18.0 A2.0,2.0 0 0 1 18.0,2.0 H13.8 Z" fill="#fff" stroke="#0d0d0d" stroke-width="1.2"/></g><g transform="translate(876.65,456.50) rotate(135)"><line x1="-1" y1="0" x2="14.0" y2="0" stroke="#0d0d0d" stroke-width="2.6"/><path d="M13.8,-2.0 H18.0 A2.0,2.0 0 0 1 18.0,2.0 H13.8 Z" fill="#fff" stroke="#0d0d0d" stroke-width="1.2"/></g><g transform="translate(876.65,483.75) rotate(45)"><line x1="-1" y1="0" x2="14.0" y2="0" stroke="#0d0d0d" stroke-width="2.6"/><path d="M13.8,-2.0 H18.0 A2.0,2.0 0 0 1 18.0,2.0 H13.8 Z" fill="#fff" stroke="#0d0d0d" stroke-width="1.2"/></g><g transform="translate(876.65,511.00) rotate(135)"><line x1="-1" y1="0" x2="14.0" y2="0" stroke="#0d0d0d" stroke-width="2.6"/><path d="M13.8,-2.0 H18.0 A2.0,2.0 0 0 1 18.0,2.0 H13.8 Z" fill="#fff" stroke="#0d0d0d" stroke-width="1.2"/></g>
<line x1="898.70" y1="387.9" x2="898.70" y2="620.60" stroke="#0d0d0d" stroke-width="2.0"/><g transform="translate(898.70,402.00) rotate(135)"><line x1="-1" y1="0" x2="14.0" y2="0" stroke="#0d0d0d" stroke-width="2.6"/><path d="M13.8,-2.0 H18.0 A2.0,2.0 0 0 1 18.0,2.0 H13.8 Z" fill="#fff" stroke="#0d0d0d" stroke-width="1.2"/></g><g transform="translate(898.70,429.25) rotate(45)"><line x1="-1" y1="0" x2="14.0" y2="0" stroke="#0d0d0d" stroke-width="2.6"/><path d="M13.8,-2.0 H18.0 A2.0,2.0 0 0 1 18.0,2.0 H13.8 Z" fill="#fff" stroke="#0d0d0d" stroke-width="1.2"/></g><g transform="translate(898.70,456.50) rotate(135)"><line x1="-1" y1="0" x2="14.0" y2="0" stroke="#0d0d0d" stroke-width="2.6"/><path d="M13.8,-2.0 H18.0 A2.0,2.0 0 0 1 18.0,2.0 H13.8 Z" fill="#fff" stroke="#0d0d0d" stroke-width="1.2"/></g><g transform="translate(898.70,511.00) rotate(135)"><line x1="-1" y1="0" x2="14.0" y2="0" stroke="#0d0d0d" stroke-width="2.6"/><path d="M13.8,-2.0 H18.0 A2.0,2.0 0 0 1 18.0,2.0 H13.8 Z" fill="#fff" stroke="#0d0d0d" stroke-width="1.2"/></g><g transform="translate(898.70,538.25) rotate(45)"><line x1="-1" y1="0" x2="14.0" y2="0" stroke="#0d0d0d" stroke-width="2.6"/><path d="M13.8,-2.0 H18.0 A2.0,2.0 0 0 1 18.0,2.0 H13.8 Z" fill="#fff" stroke="#0d0d0d" stroke-width="1.2"/></g><g transform="translate(898.70,565.50) rotate(135)"><line x1="-1" y1="0" x2="14.0" y2="0" stroke="#0d0d0d" stroke-width="2.6"/><path d="M13.8,-2.0 H18.0 A2.0,2.0 0 0 1 18.0,2.0 H13.8 Z" fill="#fff" stroke="#0d0d0d" stroke-width="1.2"/></g><g transform="translate(898.70,592.75) rotate(45)"><line x1="-1" y1="0" x2="14.0" y2="0" stroke="#0d0d0d" stroke-width="2.6"/><path d="M13.8,-2.0 H18.0 A2.0,2.0 0 0 1 18.0,2.0 H13.8 Z" fill="#fff" stroke="#0d0d0d" stroke-width="1.2"/></g><g transform="translate(898.70,620.00) rotate(135)"><line x1="-1" y1="0" x2="14.0" y2="0" stroke="#0d0d0d" stroke-width="2.6"/><path d="M13.8,-2.0 H18.0 A2.0,2.0 0 0 1 18.0,2.0 H13.8 Z" fill="#fff" stroke="#0d0d0d" stroke-width="1.2"/></g>
<line x1="920.75" y1="387.9" x2="920.75" y2="457.10" stroke="#0d0d0d" stroke-width="2.0"/><g transform="translate(920.75,402.00) rotate(135)"><line x1="-1" y1="0" x2="14.0" y2="0" stroke="#0d0d0d" stroke-width="2.6"/><path d="M13.8,-2.0 H18.0 A2.0,2.0 0 0 1 18.0,2.0 H13.8 Z" fill="#fff" stroke="#0d0d0d" stroke-width="1.2"/></g><g transform="translate(920.75,429.25) rotate(45)"><line x1="-1" y1="0" x2="14.0" y2="0" stroke="#0d0d0d" stroke-width="2.6"/><path d="M13.8,-2.0 H18.0 A2.0,2.0 0 0 1 18.0,2.0 H13.8 Z" fill="#fff" stroke="#0d0d0d" stroke-width="1.2"/></g><g transform="translate(920.75,456.50) rotate(135)"><line x1="-1" y1="0" x2="14.0" y2="0" stroke="#0d0d0d" stroke-width="2.6"/><path d="M13.8,-2.0 H18.0 A2.0,2.0 0 0 1 18.0,2.0 H13.8 Z" fill="#fff" stroke="#0d0d0d" stroke-width="1.2"/></g>
<line x1="942.80" y1="387.9" x2="942.80" y2="511.60" stroke="#0d0d0d" stroke-width="2.0"/><g transform="translate(942.80,429.25) rotate(45)"><line x1="-1" y1="0" x2="14.0" y2="0" stroke="#0d0d0d" stroke-width="2.6"/><path d="M13.8,-2.0 H18.0 A2.0,2.0 0 0 1 18.0,2.0 H13.8 Z" fill="#fff" stroke="#0d0d0d" stroke-width="1.2"/></g><g transform="translate(942.80,456.50) rotate(135)"><line x1="-1" y1="0" x2="14.0" y2="0" stroke="#0d0d0d" stroke-width="2.6"/><path d="M13.8,-2.0 H18.0 A2.0,2.0 0 0 1 18.0,2.0 H13.8 Z" fill="#fff" stroke="#0d0d0d" stroke-width="1.2"/></g><g transform="translate(942.80,483.75) rotate(45)"><line x1="-1" y1="0" x2="14.0" y2="0" stroke="#0d0d0d" stroke-width="2.6"/><path d="M13.8,-2.0 H18.0 A2.0,2.0 0 0 1 18.0,2.0 H13.8 Z" fill="#fff" stroke="#0d0d0d" stroke-width="1.2"/></g><g transform="translate(942.80,511.00) rotate(135)"><line x1="-1" y1="0" x2="14.0" y2="0" stroke="#0d0d0d" stroke-width="2.6"/><path d="M13.8,-2.0 H18.0 A2.0,2.0 0 0 1 18.0,2.0 H13.8 Z" fill="#fff" stroke="#0d0d0d" stroke-width="1.2"/></g>
<polyline points="248.8,463 290,673 323,673" stroke="#0d0d0d" stroke-width="1.4" fill="none"/>
<polyline points="474,673 518,673 942.3,632.5" stroke="#0d0d0d" stroke-width="1.4" fill="none"/>
<rect x="322.5" y="655.2" width="151.8" height="35.6" fill="#121212"/>
<text x="329.6" y="679.9" font-size="19" textLength="136.74" lengthAdjust="spacingAndGlyphs" fill="#fff">Nr. LED-uri: 668</text>
<text x="54.3" y="693.1" font-size="25.3" textLength="203.76" lengthAdjust="spacingAndGlyphs" fill="#121212">Mărimea LED-ului</text>
<rect x="226.8" y="807.6" width="168.0" height="60.8" fill="#121212"/>
<text x="236.7" y="832.1" font-size="17.7" textLength="150.52" lengthAdjust="spacingAndGlyphs" fill="#fff">LED-uri cu lumină</text>
<text x="237.7" y="854.6" font-size="17.7" textLength="77.21" lengthAdjust="spacingAndGlyphs" fill="#fff">puternică</text>
<circle cx="155" cy="838" r="76" fill="#fff" stroke="#0d0d0d" stroke-width="1.5"/>
<g stroke="#0d0d0d" stroke-width="1.2" fill="#fff">
<rect x="146.1" y="766.1" width="17.7" height="92"/>
<path d="M144.3,755 V745.8 A10.65,10.65 0 0 1 165.6,745.8 V755 Z" stroke="#2a2a2a"/>
<rect x="142.8" y="754.6" width="24.1" height="11.5"/>
</g>
<path d="M146.6,752.5 V746 A8.4,8.4 0 0 1 162.4,741.8" stroke="#333" stroke-width="0.8" fill="none"/>

<path d="M144.2,727 L150.39999999999998,722.3 V725.3 H160.60000000000002 V722.3 L166.8,727 L160.60000000000002,731.7 V728.7 H150.39999999999998 V731.7 Z" fill="#0d0d0d" stroke="#0d0d0d" stroke-width="0.8" stroke-linejoin="round"/>
<path d="M174.4,734 L179.1,739.5 H176.1 V749.5 H179.1 L174.4,755 L169.70000000000002,749.5 H172.70000000000002 V739.5 H169.70000000000002 Z" fill="#0d0d0d" stroke="#0d0d0d" stroke-width="0.8" stroke-linejoin="round"/>
<path d="M128.7,754.4 L133.2,761.4 H130.5 V849 H133.2 L128.7,856 L124.19999999999999,849 H126.89999999999999 V761.4 H124.19999999999999 Z" fill="#0d0d0d" stroke="#0d0d0d" stroke-width="0.8" stroke-linejoin="round"/>
<text x="141.9" y="717.9" font-size="12.1" textLength="29.02" lengthAdjust="spacingAndGlyphs" fill="#121212">5mm</text>
<text x="181.6" y="747.4" font-size="12.1" textLength="29.24" lengthAdjust="spacingAndGlyphs" fill="#121212">5mm</text>
<text x="88.6" y="812.7" font-size="12.4" textLength="35.9" lengthAdjust="spacingAndGlyphs" fill="#121212">25mm</text>
<g stroke="#0d0d0d" stroke-width="1.6" fill="none" stroke-linejoin="round" stroke-linecap="round">
<path d="M59.3,862.7 C66,864.5 70,866.5 74.9,867.5 C90,866.5 115,865 132.9,864.4 C140,862 146,858.5 159,856.2 C175,857.5 190,858.9 204.4,858.9 C215,859 222,860 227,860.7 C240,862.5 248,864 253.3,866.1 L242.4,880.6 C232,880 225,879.5 218,878.8 C205,877 198,876 190.8,875.2 C182,874.5 178,874.3 174.5,874.3 C165,874.5 155,876 150,877 C140,879.5 125,882.5 115.6,882.2 C105,883 100,883 95.7,883 C85,882 78,882 73.2,882.2 L66.2,872.2 Z" fill="#fff"/>
<path d="M66.2,872.2 C72,874 77,875 81,876.5 C86,879 91,881 95.7,883"/>
<path d="M74.9,867.5 C80,869 85,871 89.6,871.4 C100,871.6 110,871 115.6,871.4 C125,872 135,873 141.5,874 C145,874.8 148,875.8 150.2,876.5"/>
<path d="M81,870.5 C90,873 100,876 106.9,876.5 C115,877.5 122,878.5 128.5,878.6 C138,878.5 145,877.5 150.2,876.5"/>
<path d="M132.9,864.4 C140,865.5 150,868 160,870.5 C166,872 170,873.5 174.5,874.3"/>
<path d="M159,856.2 C163,858.5 168,861 172.7,863.4 C180,867 187,869.5 193.5,871.6 C203,874.5 210,876.5 218,878.8"/>
<path d="M150,863.4 C158,866 166,869 174.5,871.6 C181,873.5 187,874.5 193.5,875.2"/>
<path d="M181.7,858.9 C190,862 197,864.5 204.4,867 C213,870 222,872.5 231.5,874.3 C236,875.5 239,876.5 242.4,877.9"/>
<path d="M204.4,858.9 C212,861.5 220,864 227,866.1 C235,868 242,870 249.7,871.6"/>
</g>
<text x="952.9" y="667.5" font-size="25.1" textLength="96.48" lengthAdjust="spacingAndGlyphs" fill="#121212">Spațiere</text>
<line x1="864" y1="692.4" x2="1116" y2="692.4" stroke="#0d0d0d" stroke-width="2"/>
<line x1="886.10" y1="692.4" x2="886.10" y2="761.80" stroke="#0d0d0d" stroke-width="2.0"/><g transform="translate(886.10,706.80) rotate(139)"><line x1="-1" y1="0" x2="12.799999999999999" y2="0" stroke="#0d0d0d" stroke-width="2.3"/><path d="M12.6,-2.0 H17.0 A2.0,2.0 0 0 1 17.0,2.0 H12.6 Z" fill="#fff" stroke="#0d0d0d" stroke-width="1.3"/></g><g transform="translate(886.10,734.00) rotate(41)"><line x1="-1" y1="0" x2="12.799999999999999" y2="0" stroke="#0d0d0d" stroke-width="2.3"/><path d="M12.6,-2.0 H17.0 A2.0,2.0 0 0 1 17.0,2.0 H12.6 Z" fill="#fff" stroke="#0d0d0d" stroke-width="1.3"/></g><g transform="translate(886.10,761.20) rotate(139)"><line x1="-1" y1="0" x2="12.799999999999999" y2="0" stroke="#0d0d0d" stroke-width="2.3"/><path d="M12.6,-2.0 H17.0 A2.0,2.0 0 0 1 17.0,2.0 H12.6 Z" fill="#fff" stroke="#0d0d0d" stroke-width="1.3"/></g>
<line x1="926.10" y1="692.4" x2="926.10" y2="816.20" stroke="#0d0d0d" stroke-width="2.0"/><g transform="translate(926.10,734.00) rotate(41)"><line x1="-1" y1="0" x2="12.799999999999999" y2="0" stroke="#0d0d0d" stroke-width="2.3"/><path d="M12.6,-2.0 H17.0 A2.0,2.0 0 0 1 17.0,2.0 H12.6 Z" fill="#fff" stroke="#0d0d0d" stroke-width="1.3"/></g><g transform="translate(926.10,761.20) rotate(139)"><line x1="-1" y1="0" x2="12.799999999999999" y2="0" stroke="#0d0d0d" stroke-width="2.3"/><path d="M12.6,-2.0 H17.0 A2.0,2.0 0 0 1 17.0,2.0 H12.6 Z" fill="#fff" stroke="#0d0d0d" stroke-width="1.3"/></g><g transform="translate(926.10,788.40) rotate(41)"><line x1="-1" y1="0" x2="12.799999999999999" y2="0" stroke="#0d0d0d" stroke-width="2.3"/><path d="M12.6,-2.0 H17.0 A2.0,2.0 0 0 1 17.0,2.0 H12.6 Z" fill="#fff" stroke="#0d0d0d" stroke-width="1.3"/></g><g transform="translate(926.10,815.60) rotate(139)"><line x1="-1" y1="0" x2="12.799999999999999" y2="0" stroke="#0d0d0d" stroke-width="2.3"/><path d="M12.6,-2.0 H17.0 A2.0,2.0 0 0 1 17.0,2.0 H12.6 Z" fill="#fff" stroke="#0d0d0d" stroke-width="1.3"/></g>
<line x1="970.40" y1="692.4" x2="970.40" y2="925.00" stroke="#0d0d0d" stroke-width="2.0"/><g transform="translate(970.40,706.80) rotate(139)"><line x1="-1" y1="0" x2="12.799999999999999" y2="0" stroke="#0d0d0d" stroke-width="2.3"/><path d="M12.6,-2.0 H17.0 A2.0,2.0 0 0 1 17.0,2.0 H12.6 Z" fill="#fff" stroke="#0d0d0d" stroke-width="1.3"/></g><g transform="translate(970.40,734.00) rotate(41)"><line x1="-1" y1="0" x2="12.799999999999999" y2="0" stroke="#0d0d0d" stroke-width="2.3"/><path d="M12.6,-2.0 H17.0 A2.0,2.0 0 0 1 17.0,2.0 H12.6 Z" fill="#fff" stroke="#0d0d0d" stroke-width="1.3"/></g><g transform="translate(970.40,761.20) rotate(139)"><line x1="-1" y1="0" x2="12.799999999999999" y2="0" stroke="#0d0d0d" stroke-width="2.3"/><path d="M12.6,-2.0 H17.0 A2.0,2.0 0 0 1 17.0,2.0 H12.6 Z" fill="#fff" stroke="#0d0d0d" stroke-width="1.3"/></g><g transform="translate(970.40,788.40) rotate(41)"><line x1="-1" y1="0" x2="12.799999999999999" y2="0" stroke="#0d0d0d" stroke-width="2.3"/><path d="M12.6,-2.0 H17.0 A2.0,2.0 0 0 1 17.0,2.0 H12.6 Z" fill="#fff" stroke="#0d0d0d" stroke-width="1.3"/></g><g transform="translate(970.40,815.60) rotate(139)"><line x1="-1" y1="0" x2="12.799999999999999" y2="0" stroke="#0d0d0d" stroke-width="2.3"/><path d="M12.6,-2.0 H17.0 A2.0,2.0 0 0 1 17.0,2.0 H12.6 Z" fill="#fff" stroke="#0d0d0d" stroke-width="1.3"/></g><g transform="translate(970.40,842.80) rotate(41)"><line x1="-1" y1="0" x2="12.799999999999999" y2="0" stroke="#0d0d0d" stroke-width="2.3"/><path d="M12.6,-2.0 H17.0 A2.0,2.0 0 0 1 17.0,2.0 H12.6 Z" fill="#fff" stroke="#0d0d0d" stroke-width="1.3"/></g><g transform="translate(970.40,870.00) rotate(139)"><line x1="-1" y1="0" x2="12.799999999999999" y2="0" stroke="#0d0d0d" stroke-width="2.3"/><path d="M12.6,-2.0 H17.0 A2.0,2.0 0 0 1 17.0,2.0 H12.6 Z" fill="#fff" stroke="#0d0d0d" stroke-width="1.3"/></g><g transform="translate(970.40,897.20) rotate(41)"><line x1="-1" y1="0" x2="12.799999999999999" y2="0" stroke="#0d0d0d" stroke-width="2.3"/><path d="M12.6,-2.0 H17.0 A2.0,2.0 0 0 1 17.0,2.0 H12.6 Z" fill="#fff" stroke="#0d0d0d" stroke-width="1.3"/></g><g transform="translate(970.40,924.40) rotate(139)"><line x1="-1" y1="0" x2="12.799999999999999" y2="0" stroke="#0d0d0d" stroke-width="2.3"/><path d="M12.6,-2.0 H17.0 A2.0,2.0 0 0 1 17.0,2.0 H12.6 Z" fill="#fff" stroke="#0d0d0d" stroke-width="1.3"/></g>
<line x1="1010.60" y1="692.4" x2="1010.60" y2="761.80" stroke="#0d0d0d" stroke-width="2.0"/><g transform="translate(1010.60,706.80) rotate(139)"><line x1="-1" y1="0" x2="12.799999999999999" y2="0" stroke="#0d0d0d" stroke-width="2.3"/><path d="M12.6,-2.0 H17.0 A2.0,2.0 0 0 1 17.0,2.0 H12.6 Z" fill="#fff" stroke="#0d0d0d" stroke-width="1.3"/></g><g transform="translate(1010.60,734.00) rotate(41)"><line x1="-1" y1="0" x2="12.799999999999999" y2="0" stroke="#0d0d0d" stroke-width="2.3"/><path d="M12.6,-2.0 H17.0 A2.0,2.0 0 0 1 17.0,2.0 H12.6 Z" fill="#fff" stroke="#0d0d0d" stroke-width="1.3"/></g><g transform="translate(1010.60,761.20) rotate(139)"><line x1="-1" y1="0" x2="12.799999999999999" y2="0" stroke="#0d0d0d" stroke-width="2.3"/><path d="M12.6,-2.0 H17.0 A2.0,2.0 0 0 1 17.0,2.0 H12.6 Z" fill="#fff" stroke="#0d0d0d" stroke-width="1.3"/></g>
<line x1="1050.80" y1="692.4" x2="1050.80" y2="816.20" stroke="#0d0d0d" stroke-width="2.0"/><g transform="translate(1050.80,734.00) rotate(41)"><line x1="-1" y1="0" x2="12.799999999999999" y2="0" stroke="#0d0d0d" stroke-width="2.3"/><path d="M12.6,-2.0 H17.0 A2.0,2.0 0 0 1 17.0,2.0 H12.6 Z" fill="#fff" stroke="#0d0d0d" stroke-width="1.3"/></g><g transform="translate(1050.80,761.20) rotate(139)"><line x1="-1" y1="0" x2="12.799999999999999" y2="0" stroke="#0d0d0d" stroke-width="2.3"/><path d="M12.6,-2.0 H17.0 A2.0,2.0 0 0 1 17.0,2.0 H12.6 Z" fill="#fff" stroke="#0d0d0d" stroke-width="1.3"/></g><g transform="translate(1050.80,788.40) rotate(41)"><line x1="-1" y1="0" x2="12.799999999999999" y2="0" stroke="#0d0d0d" stroke-width="2.3"/><path d="M12.6,-2.0 H17.0 A2.0,2.0 0 0 1 17.0,2.0 H12.6 Z" fill="#fff" stroke="#0d0d0d" stroke-width="1.3"/></g><g transform="translate(1050.80,815.60) rotate(139)"><line x1="-1" y1="0" x2="12.799999999999999" y2="0" stroke="#0d0d0d" stroke-width="2.3"/><path d="M12.6,-2.0 H17.0 A2.0,2.0 0 0 1 17.0,2.0 H12.6 Z" fill="#fff" stroke="#0d0d0d" stroke-width="1.3"/></g>
<line x1="1094.50" y1="692.4" x2="1094.50" y2="925.00" stroke="#0d0d0d" stroke-width="2.0"/><g transform="translate(1094.50,706.80) rotate(139)"><line x1="-1" y1="0" x2="12.799999999999999" y2="0" stroke="#0d0d0d" stroke-width="2.3"/><path d="M12.6,-2.0 H17.0 A2.0,2.0 0 0 1 17.0,2.0 H12.6 Z" fill="#fff" stroke="#0d0d0d" stroke-width="1.3"/></g><g transform="translate(1094.50,734.00) rotate(41)"><line x1="-1" y1="0" x2="12.799999999999999" y2="0" stroke="#0d0d0d" stroke-width="2.3"/><path d="M12.6,-2.0 H17.0 A2.0,2.0 0 0 1 17.0,2.0 H12.6 Z" fill="#fff" stroke="#0d0d0d" stroke-width="1.3"/></g><g transform="translate(1094.50,761.20) rotate(139)"><line x1="-1" y1="0" x2="12.799999999999999" y2="0" stroke="#0d0d0d" stroke-width="2.3"/><path d="M12.6,-2.0 H17.0 A2.0,2.0 0 0 1 17.0,2.0 H12.6 Z" fill="#fff" stroke="#0d0d0d" stroke-width="1.3"/></g><g transform="translate(1094.50,788.40) rotate(41)"><line x1="-1" y1="0" x2="12.799999999999999" y2="0" stroke="#0d0d0d" stroke-width="2.3"/><path d="M12.6,-2.0 H17.0 A2.0,2.0 0 0 1 17.0,2.0 H12.6 Z" fill="#fff" stroke="#0d0d0d" stroke-width="1.3"/></g><g transform="translate(1094.50,815.60) rotate(139)"><line x1="-1" y1="0" x2="12.799999999999999" y2="0" stroke="#0d0d0d" stroke-width="2.3"/><path d="M12.6,-2.0 H17.0 A2.0,2.0 0 0 1 17.0,2.0 H12.6 Z" fill="#fff" stroke="#0d0d0d" stroke-width="1.3"/></g><g transform="translate(1094.50,842.80) rotate(41)"><line x1="-1" y1="0" x2="12.799999999999999" y2="0" stroke="#0d0d0d" stroke-width="2.3"/><path d="M12.6,-2.0 H17.0 A2.0,2.0 0 0 1 17.0,2.0 H12.6 Z" fill="#fff" stroke="#0d0d0d" stroke-width="1.3"/></g><g transform="translate(1094.50,870.00) rotate(139)"><line x1="-1" y1="0" x2="12.799999999999999" y2="0" stroke="#0d0d0d" stroke-width="2.3"/><path d="M12.6,-2.0 H17.0 A2.0,2.0 0 0 1 17.0,2.0 H12.6 Z" fill="#fff" stroke="#0d0d0d" stroke-width="1.3"/></g><g transform="translate(1094.50,897.20) rotate(41)"><line x1="-1" y1="0" x2="12.799999999999999" y2="0" stroke="#0d0d0d" stroke-width="2.3"/><path d="M12.6,-2.0 H17.0 A2.0,2.0 0 0 1 17.0,2.0 H12.6 Z" fill="#fff" stroke="#0d0d0d" stroke-width="1.3"/></g><g transform="translate(1094.50,924.40) rotate(139)"><line x1="-1" y1="0" x2="12.799999999999999" y2="0" stroke="#0d0d0d" stroke-width="2.3"/><path d="M12.6,-2.0 H17.0 A2.0,2.0 0 0 1 17.0,2.0 H12.6 Z" fill="#fff" stroke="#0d0d0d" stroke-width="1.3"/></g>
<polyline points="885.5,733 756,751.1 885.5,758.5" stroke="#0d0d0d" stroke-width="1.4" fill="none"/>
<text x="714.7" y="754.4" font-size="15" textLength="31.4" lengthAdjust="spacingAndGlyphs" fill="#121212">9cm</text>
<path d="M1013.5,868.8 L1020.0,863.3 V866.6999999999999 H1044.8 V863.3 L1051.3,868.8 L1044.8,874.3 V870.9 H1020.0 V874.3 Z" fill="#0d0d0d" stroke="#0d0d0d" stroke-width="0.8" stroke-linejoin="round"/>
<text x="1013.6" y="893.4" font-size="14.7" textLength="38.77" lengthAdjust="spacingAndGlyphs" fill="#121212">16cm</text>
<path d="M1130.2,698.1 L1137.2,704.6 H1132.8 V930.9 H1137.2 L1130.2,937.4 L1123.2,930.9 H1127.6000000000001 V704.6 H1123.2 Z" fill="#0d0d0d" stroke="#0d0d0d" stroke-width="0.8" stroke-linejoin="round"/>
<text x="1146.8" y="814.5" font-size="15.2" textLength="36.61" lengthAdjust="spacingAndGlyphs" fill="#121212">0,7m</text>
<text x="128.6" y="989.7" font-size="24.9" textLength="956.59" lengthAdjust="spacingAndGlyphs" fill="#121212">*Dimensiunile produsului sunt aproximative și variază din cauza îndoiturilor din cablu.</text>
</svg></body></html>
